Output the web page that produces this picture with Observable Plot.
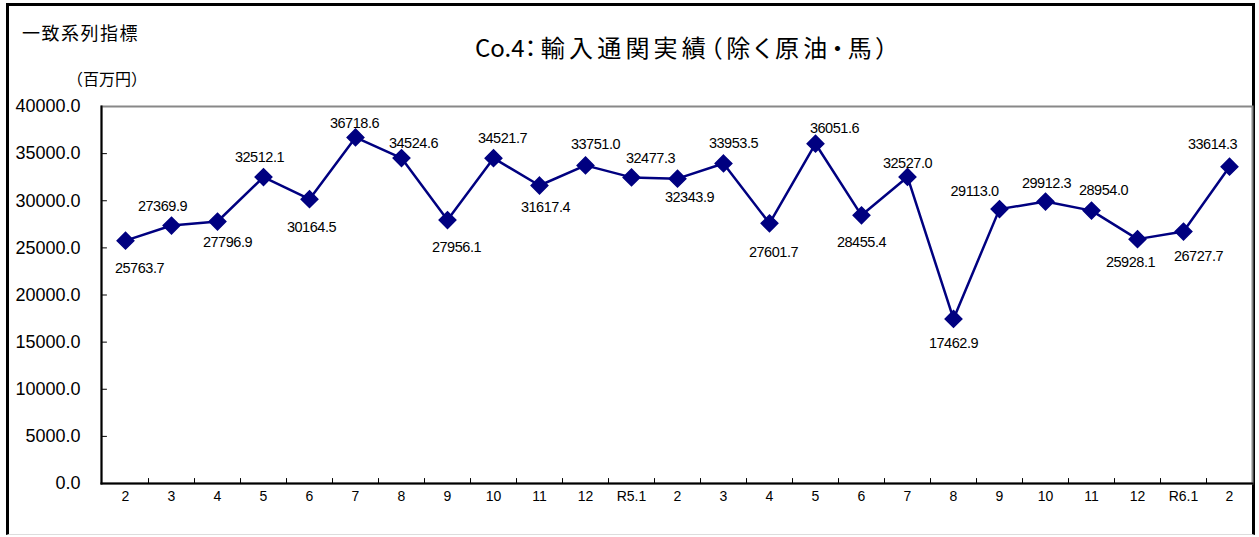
<!DOCTYPE html>
<html>
<head>
<meta charset="utf-8">
<script src="https://cdn.jsdelivr.net/npm/d3@7"></script>
<script src="https://cdn.jsdelivr.net/npm/@observablehq/plot@0.6"></script>
<style>
  body { margin: 0; background: #fff; }
  #wrap { position: relative; width: 1259px; height: 537px; overflow: hidden; font-family: "Liberation Sans", Arial, sans-serif; }
  #box { position: absolute; left: 6px; top: 3px; width: 1249px; height: 532px; border-left: 3px solid #000; border-top: 3px solid #000; border-right: 3px solid #000; border-bottom: 1px solid #ddd; box-sizing: border-box; }
  .jp { font-family: "Noto Sans CJK JP", sans-serif; position: absolute; color: #000; white-space: nowrap; }
  #series { left: 22px; top: 19px; font-size: 18px; letter-spacing: 1.5px; }
  #unit { left: 67px; top: 66px; font-size: 16px; }
  #title { left: 475px; top: 29px; font-size: 24px; font-feature-settings: "palt"; }
  #title .cjk { letter-spacing: 4.2px; }
  #chart { position: absolute; left: 0; top: 0; }
</style>
</head>
<body>
<div id="wrap">
  <div id="box"></div>
  <div id="chart"></div>
  <div class="jp" id="series">一致系列指標</div>
  <div class="jp" id="unit">（百万円）</div>
  <div class="jp" id="title">Co.4<span class="cjk">：輸入通関実績（除く原油・馬）</span></div>
</div>
<script>
// Data
const months = ["2","3","4","5","6","7","8","9","10","11","12","R5.1","2","3","4","5","6","7","8","9","10","11","12","R6.1","2"];
const values = [25763.7, 27369.9, 27796.9, 32512.1, 30164.5, 36718.6, 34524.6, 27956.1, 34521.7, 31617.4, 33751.0, 32477.3, 32343.9, 33953.5, 27601.7, 36051.6, 28455.4, 32527.0, 17462.9, 29113.0, 29912.3, 28954.0, 25928.1, 26727.7, 33614.3];
const yTicks = [0, 5000, 10000, 15000, 20000, 25000, 30000, 35000, 40000];

// Label placement offsets (pixels from the marker), as placed in the original
const labelDx = [14, -9, 10, -4, 2, -1, 12, 9, 9, 6, 10, 19, 12, 10, 4, 19, 0, 0, 0, -25, 1, 12, -7, 15, -17];
const labelDy = [28, -19, 21, -20, 28, -14, -15, 27, -20, 22, -21, -19, 19, -20, 29, -15, 27, -14, 24, -18, -18, -20, 23, 25, -22];

const data = months.map((m, i) => ({i, m, v: values[i]}));
const idx = d3.range(months.length);

const W = 1259, H = 537;
const mL = 101, mR = 7, mT = 106, mB = 54;
const step = (W - mL - mR) / months.length;
const tickShape = {draw(c, l) { c.moveTo(0, 0); c.lineTo(0, -l); }};

const labelMarks = data.map((d, k) =>
  Plot.text([d], {x: "i", y: "v", text: e => e.v.toFixed(1), dx: labelDx[k], dy: labelDy[k],
    fontSize: 14.5, fill: "#000"})
);

const chart = Plot.plot({
  width: W,
  height: H,
  marginLeft: mL,
  marginRight: mR,
  marginTop: mT,
  marginBottom: mB,
  style: {fontFamily: "'Liberation Sans', Arial, sans-serif", background: "transparent", overflow: "visible"},
  x: {type: "point", domain: idx, padding: 0.5, label: null},
  y: {domain: [0, 40000], label: null},
  marks: [
    Plot.frame({stroke: "#888", strokeWidth: 2}),
    Plot.frame({anchor: "left", stroke: "#000", strokeWidth: 2}),
    Plot.frame({anchor: "bottom", stroke: "#000", strokeWidth: 2}),
    Plot.vector(yTicks.slice(1, -1), {y: d => d, frameAnchor: "left", length: 5, rotate: 90, anchor: "start", shape: tickShape, stroke: "#000", strokeWidth: 1}),
    Plot.vector(idx.slice(0, -1), {x: d => d, dx: step / 2, frameAnchor: "bottom", length: 5, rotate: 0, anchor: "start", shape: tickShape, stroke: "#000", strokeWidth: 1}),
    Plot.axisY({ticks: yTicks, tickSize: 0, tickPadding: 21, tickFormat: d => d.toFixed(1), fontSize: 18, label: null}),
    Plot.axisX({ticks: idx, tickSize: 0, tickPadding: 8, tickFormat: i => months[i], fontSize: 14, label: null}),
    Plot.line(data, {x: "i", y: "v", stroke: "#000080", strokeWidth: 2.5}),
    Plot.dot(data, {x: "i", y: "v", symbol: "diamond2", r: 7.5, fill: "#000080", stroke: "#000080"}),
    ...labelMarks
  ]
});
// slightly condensed digits for data labels, as in the original
chart.querySelectorAll('g[aria-label="text"] text').forEach(t => t.setAttribute("letter-spacing", "-0.45"));
document.getElementById("chart").appendChild(chart);
</script>
</body>
</html>
